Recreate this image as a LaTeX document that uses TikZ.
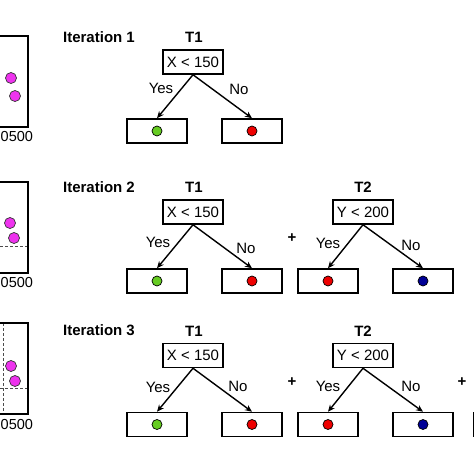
\documentclass[tikz,border=0pt]{standalone}
\usepackage{fontspec}
\setmainfont{Liberation Sans}
\usetikzlibrary{arrows.meta}
\definecolor{lgreen}{RGB}{102,204,34}
\definecolor{lred}{RGB}{238,0,0}
\definecolor{lblue}{RGB}{0,0,150}
\definecolor{lmag}{RGB}{238,51,238}
\begin{document}
\begin{tikzpicture}[x=1pt,y=-1pt,
  font=\fontsize{15}{18}\selectfont,
  split/.style={draw, line width=1.5pt, minimum width=60pt, minimum height=24pt, inner sep=0pt},
  leafbox/.style={draw, line width=1.5pt, minimum width=60pt, minimum height=24pt, inner sep=0pt},
  dot/.style={circle, draw=black, line width=0.7pt, minimum size=10pt, inner sep=0pt},
  mdot/.style={circle, draw=black!80, line width=0.7pt, fill=lmag, minimum size=11pt, inner sep=0pt},
  ttl/.style={font=\fontsize{15}{18}\selectfont\bfseries, inner sep=0pt},
  lbl/.style={inner sep=0pt},
  axlbl/.style={font=\fontsize{14.5}{17}\selectfont, inner sep=0pt, anchor=west},
  arr/.style={line width=1.4pt, -{Stealth[length=7pt,width=6pt]}},
  plotline/.style={line width=1.5pt},
  guide/.style={densely dashed, line width=0.9pt, black!70},
  plus/.style={font=\fontsize{15}{18}\selectfont\bfseries, inner sep=0pt}]
\clip (0,0) rectangle (474,474);
\fill[white] (0,0) rectangle (474,474);

% ---------- left plots ----------
\draw[plotline] (-10,36) rectangle (28,127);
\node[mdot] (m1a) at (11,78) {};
\node[mdot] (m1b) at (15,96) {};
\node[axlbl] (ax1) at (0.5,137) {0500};

\draw[guide] (0,246) -- (28,246);
\draw[plotline] (-10,182) rectangle (28,273);
\node[mdot] (m2a) at (10,223) {};
\node[mdot] (m2b) at (14,238) {};
\node[axlbl] (ax2) at (0.5,283) {0500};

\draw[guide] (0,388) -- (28,388);
\draw[guide] (3,323) -- (3,414);
\draw[plotline] (-10,323) rectangle (28,414);
\node[mdot] (m3a) at (11,366) {};
\node[mdot] (m3b) at (15,381) {};
\node[axlbl] (ax3) at (0.5,425) {0500};

% ---------- Iteration 1 ----------
\node[ttl] (it1) at (99,37) {Iteration 1};
\node[ttl] (t1a) at (194,37) {T1};
\node[split] (s1a) at (193,62) {X < 150};
\node[leafbox] (l1a) at (157,131) {};
\node[leafbox] (r1a) at (252,131) {};
\node[dot, fill=lgreen] (g1a) at (l1a) {};
\node[dot, fill=lred] (e1a) at (r1a) {};
\draw[arr] (s1a.south) -- (l1a.north);
\draw[arr] (s1a.south) -- (r1a.north);
\node[lbl] (y1a) at (161,88) {Yes};
\node[lbl] (n1a) at (239,89) {No};

% ---------- Iteration 2 ----------
\node[ttl] (it2) at (99,187) {Iteration 2};
\node[ttl] (t1b) at (194,187) {T1};
\node[split] (s1b) at (193,212) {X < 150};
\node[leafbox] (l1b) at (157,281) {};
\node[leafbox] (r1b) at (252,281) {};
\node[dot, fill=lgreen] (g1b) at (l1b) {};
\node[dot, fill=lred] (e1b) at (r1b) {};
\draw[arr] (s1b.south) -- (l1b.north);
\draw[arr] (s1b.south) -- (r1b.north);
\node[lbl] (y1b) at (158,242) {Yes};
\node[lbl] (n1b) at (246,248) {No};
\node[plus] (p2a) at (292,238) {+};

\node[ttl] (t2b) at (363,187) {T2};
\node[split] (s2b) at (363,212) {Y < 200};
\node[leafbox] (l2b) at (328,281) {};
\node[leafbox] (r2b) at (423,281) {};
\node[dot, fill=lred] (e2b) at (l2b) {};
\node[dot, fill=lblue] (b2b) at (r2b) {};
\draw[arr] (s2b.south) -- (l2b.north);
\draw[arr] (s2b.south) -- (r2b.north);
\node[lbl] (y2b) at (328,243) {Yes};
\node[lbl] (n2b) at (411,245) {No};

% ---------- Iteration 3 ----------
\node[ttl] (it3) at (99,330) {Iteration 3};
\node[ttl] (t1c) at (194,331) {T1};
\node[split] (s1c) at (193,355.5) {X < 150};
\node[leafbox] (l1c) at (157,424.5) {};
\node[leafbox] (r1c) at (252,424.5) {};
\node[dot, fill=lgreen] (g1c) at (l1c) {};
\node[dot, fill=lred] (e1c) at (r1c) {};
\draw[arr] (s1c.south) -- (l1c.north);
\draw[arr] (s1c.south) -- (r1c.north);
\node[lbl] (y1c) at (158,387) {Yes};
\node[lbl] (n1c) at (238,386) {No};
\node[plus] (p3a) at (292,382) {+};

\node[ttl] (t2c) at (363,331) {T2};
\node[split] (s2c) at (363,355.5) {Y < 200};
\node[leafbox] (l2c) at (328,424.5) {};
\node[leafbox] (r2c) at (423,424.5) {};
\node[dot, fill=lred] (e2c) at (l2c) {};
\node[dot, fill=lblue] (b2c) at (r2c) {};
\draw[arr] (s2c.south) -- (l2c.north);
\draw[arr] (s2c.south) -- (r2c.north);
\node[lbl] (y2c) at (328,386) {Yes};
\node[lbl] (n2c) at (411,386) {No};
\node[plus] (p3b) at (462,382) {+};
\node[leafbox, anchor=west] (l3c) at (472.5,424.5) {};
\end{tikzpicture}
\end{document}
